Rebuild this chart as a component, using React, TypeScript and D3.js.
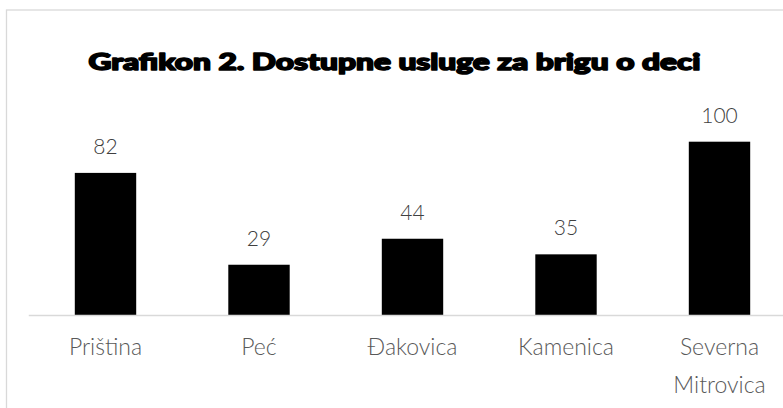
import React from "react";
import * as d3 from "d3";

const categories = ["Priština", "Peć", "Đakovica", "Kamenica", "Severna Mitrovica"];
const values = [82, 29, 44, 35, 100];
const title = "Grafikon 2. Dostupne usluge za brigu o deci";

const W = 783;
const H = 408;

const App = () => {
  const x = d3
    .scaleBand<string>()
    .domain(categories)
    .range([28.75, 796.25])
    .paddingInner(0.6)
    .paddingOuter(0.3);

  const y = d3.scaleLinear().domain([0, 100]).range([315, 141.7]);

  // split long category names on the space, like Excel wraps them
  const lines = (name: string) => (name.length > 12 ? name.split(" ") : [name]);

  return (
    <svg
      width={W}
      height={H}
      style={{ position: "absolute", left: 0, top: 0, background: "#fff" }}
    >
      <rect x={6.5} y={10} width={W + 20} height={H + 20} fill="#fff" stroke="#d9d9d9" strokeWidth={1.3} />
      <text
        x={394.5}
        y={70}
        textAnchor="middle"
        textLength={612}
        lengthAdjust="spacingAndGlyphs"
        stroke="#000"
        strokeWidth={1.6}
        strokeLinejoin="round"
        style={{ fontFamily: "Lato", fontWeight: 900, fontSize: 23, fill: "#000" }}
      >
        {title}
      </text>

      {values.map((v, i) => (
        <rect
          key={categories[i]}
          x={x(categories[i])}
          y={y(v)}
          width={x.bandwidth()}
          height={y(0) - y(v)}
          fill="#000"
        />
      ))}

      <line x1={28.75} x2={W} y1={y(0) + 0.5} y2={y(0) + 0.5} stroke="#d9d9d9" strokeWidth={1.3} />

      {values.map((v, i) => (
        <text
          key={"v" + i}
          x={(x(categories[i]) as number) + x.bandwidth() / 2}
          y={y(v) - 19}
          textAnchor="middle"
          style={{ fontFamily: "Lato", fontWeight: 300, fontSize: 21, fill: "#404040" }}
        >
          {v}
        </text>
      ))}

      {categories.map((c) => (
        <text
          key={"c" + c}
          x={(x(c) as number) + x.bandwidth() / 2}
          y={355}
          textAnchor="middle"
          style={{ fontFamily: "Lato", fontWeight: 300, fontSize: 23, fill: "#595959" }}
        >
          {lines(c).map((t, j) => (
            <tspan key={j} x={(x(c) as number) + x.bandwidth() / 2} dy={j === 0 ? 0 : 38}>
              {t}
            </tspan>
          ))}
        </text>
      ))}
    </svg>
  );
};

export default App;
